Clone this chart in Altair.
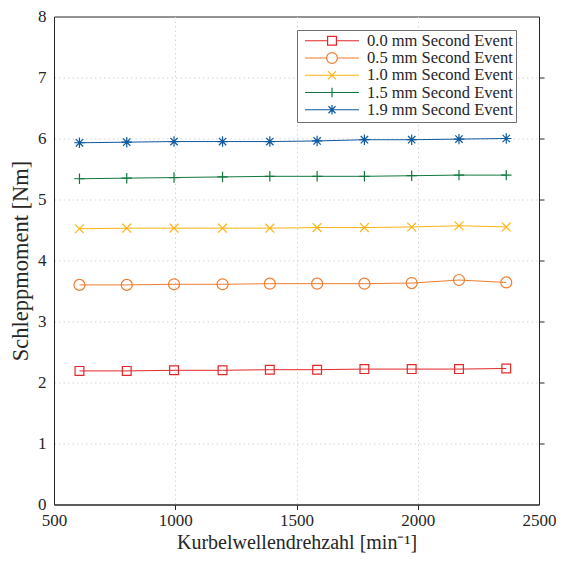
import altair as alt
import pandas as pd

rpm = [605, 800, 995, 1195, 1390, 1585, 1780, 1975, 2170, 2365]
series = ["0.0 mm Second Event", "0.5 mm Second Event", "1.0 mm Second Event",
          "1.5 mm Second Event", "1.9 mm Second Event"]
torque_00 = [2.19, 2.19, 2.20, 2.20, 2.21, 2.21, 2.22, 2.22, 2.22, 2.23]
torque_05 = [3.60, 3.60, 3.61, 3.61, 3.62, 3.62, 3.62, 3.63, 3.68, 3.64]
torque_10 = [4.52, 4.53, 4.53, 4.53, 4.53, 4.54, 4.54, 4.55, 4.57, 4.55]
torque_15 = [5.34, 5.35, 5.36, 5.37, 5.38, 5.38, 5.38, 5.39, 5.40, 5.40]
torque_19 = [5.93, 5.94, 5.95, 5.95, 5.95, 5.96, 5.98, 5.98, 5.99, 6.00]
colors = ["#e3272a", "#ef7b2c", "#fbb414", "#12783e", "#0e5a9e"]
x_ticks = [500, 1000, 1500, 2000, 2500]
y_ticks = [0, 1, 2, 3, 4, 5, 6, 7, 8]
x_inner = [1000, 1500, 2000]
y_inner = [1, 2, 3, 4, 5, 6, 7]

rows = []
for name, vals in zip(series, [torque_00, torque_05, torque_10, torque_15, torque_19]):
    for r, t in zip(rpm, vals):
        rows.append({"rpm": r, "torque": t, "series": name})
df = pd.DataFrame(rows)

W, H = 485, 488
FONT = "Liberation Serif"
INK = "#262626"

xs = alt.Scale(domain=[500, 2500], nice=False, zero=False)
ys = alt.Scale(domain=[0, 8], nice=False)
cs = alt.Scale(domain=series, range=colors)

marker_paths = [
    "M-0.8,-0.8H0.8V0.8H-0.8Z",
    "M1,0A1,1,0,1,1,-1,0A1,1,0,1,1,1,0Z",
    "M-0.8,-0.8L0.8,0.8M-0.8,0.8L0.8,-0.8",
    "M-0.95,0H0.95M0,-0.95V0.95",
    "M-0.95,0H0.95M0,-0.95V0.95M-0.67,-0.67L0.67,0.67M-0.67,0.67L0.67,-0.67",
]
legend_paths = [
    "M-1,0H-0.163M0.163,0H1M-0.163,-0.163H0.163V0.163H-0.163Z",
    "M-1,0H-0.2M0.2,0H1M0.2,0A0.2,0.2,0,1,1,-0.2,0A0.2,0.2,0,1,1,0.2,0Z",
    "M-1,0H1M-0.15,-0.15L0.15,0.15M-0.15,0.15L0.15,-0.15",
    "M-1,0H1M0,-0.18V0.18",
    "M-1,0H1M0,-0.18V0.18M-0.13,-0.13L0.13,0.13M-0.13,0.13L0.13,-0.13",
]

tick_axis = dict(labels=False, title=None, grid=False, domain=False,
                 tickSize=5, tickColor=INK, tickWidth=1)

x_grid_op = {"condition": {"test": "datum.value <= 500 || datum.value >= 2500", "value": 0}, "value": 1}
y_grid_op = {"condition": {"test": "datum.value <= 0 || datum.value >= 8", "value": 0}, "value": 1}

lines = alt.Chart(df).mark_line(strokeWidth=1).encode(
    x=alt.X("rpm:Q", scale=xs, axis=alt.Axis(
        values=x_ticks, format="d", title="Kurbelwellendrehzahl [min⁻¹]", grid=True,
        gridDash=[1.5, 3], gridColor="#d5d5d5", gridOpacity=x_grid_op, ticks=False,
        domainColor=INK, labelFont=FONT, labelFontSize=17, labelColor=INK, labelPadding=8,
        labelFlush=False, titleFont=FONT, titleFontSize=20, titleFontWeight="normal",
        titleColor=INK, titlePadding=4)),
    y=alt.Y("torque:Q", scale=ys, axis=alt.Axis(
        values=y_ticks, format="d", title="Schleppmoment [Nm]", grid=True,
        gridDash=[1.5, 3], gridColor="#d5d5d5", gridOpacity=y_grid_op, ticks=False,
        domainColor=INK, labelFont=FONT, labelFontSize=17, labelColor=INK, labelPadding=8,
        labelFlush=False, titleFont=FONT, titleFontSize=22.5, titleFontWeight="normal",
        titleColor=INK, titlePadding=5)),
    color=alt.Color("series:N", scale=cs, legend=None),
)

points = alt.Chart(df).mark_point(filled=False, size=121, strokeWidth=1.2, opacity=1).encode(
    x=alt.X("rpm:Q", scale=xs, axis=alt.Axis(orient="top", position=H, values=x_inner, **tick_axis)),
    y=alt.Y("torque:Q", scale=ys, axis=alt.Axis(orient="right", position=0.001, values=y_inner, **tick_axis)),
    color=alt.Color("series:N", scale=cs, legend=None),
    shape=alt.Shape("series:N", scale=alt.Scale(domain=series, range=marker_paths), legend=None),
)

leg = dict(title=None, orient="none", legendX=243, legendY=13.5, symbolSize=2916,
           symbolStrokeWidth=1.2, labelFont=FONT, labelFontSize=16.5, labelColor=INK,
           labelLimit=400, strokeColor="#6f6f6f", fillColor="white", padding=3,
           clipHeight=15.5, rowPadding=-0.75, symbolOffset=4, labelOffset=7,
           symbolOpacity=1)

legend_layer = alt.Chart(df).transform_filter("false").mark_point(
    filled=False, strokeWidth=1.2, opacity=1).encode(
    x=alt.X("rpm:Q", scale=xs, axis=alt.Axis(orient="bottom", position=0.001, values=x_inner, **tick_axis)),
    y=alt.Y("torque:Q", scale=ys, axis=alt.Axis(orient="left", position=W, values=y_inner, **tick_axis)),
    color=alt.Color("series:N", scale=cs, legend=alt.Legend(**leg)),
    shape=alt.Shape("series:N", scale=alt.Scale(domain=series, range=legend_paths),
                    legend=alt.Legend(**leg)),
)

chart = alt.layer(lines, points, legend_layer).resolve_scale(
    color="independent", shape="independent"
).resolve_axis(x="independent", y="independent").resolve_legend(
    color="independent", shape="independent"
).properties(
    width=W, height=H, autosize=alt.AutoSizeParams(type="none"),
    padding={"left": 46, "top": 8.5, "right": 17, "bottom": 50},
    background="white",
).configure_view(stroke=INK, strokeWidth=1)

chart.save("out.html", embed_options={"renderer": "svg", "actions": False})
